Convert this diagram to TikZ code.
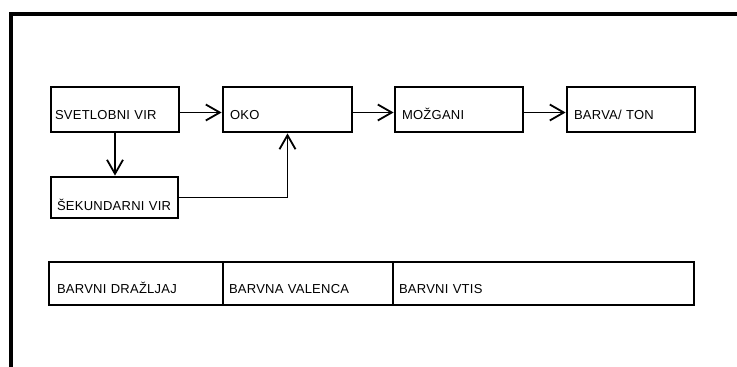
\documentclass[tikz,border=0pt]{standalone}
\usepackage{fontspec}
\usepackage{tikz}
\usetikzlibrary{arrows.meta}
\newfontfamily\napis[LetterSpace=2]{Liberation Sans}

\begin{document}
\begin{tikzpicture}[x=1pt, y=-1pt,
  okvir/.style={rectangle, draw, line width=2.8pt, inner xsep=7pt, inner ysep=0pt,
    minimum height=45pt, text height=19pt, text depth=0pt, align=left,
    font=\napis\fontsize{13}{15}\selectfont},
  strelica/.style={line width=1.8pt, -{Straight Barb[length=14pt, width=16pt]}}]
  \useasboundingbox (0,0) rectangle (737,367);

  % Okvir
  \draw[line width=4pt] (737,14) -- (11,14) -- (11,367);

  % Vozlisca
  \node[okvir, inner xsep=4pt, text width=120pt] (svet) at (115,109.5) {SVETLOBNI VIR};   % levo zgoraj
  \node[okvir, text width=115pt] (oko) at (287.5,109.5) {OKO};
  \node[okvir, text width=114pt] (mozg) at (459,109.5) {MOŽGANI};
  \node[okvir, text width=114pt] (barva) at (631,109.5) {BARVA/ TON};                    % desno
  \node[okvir, inner xsep=6pt, text width=115pt, minimum height=41pt, text height=26pt]
    (sek) at (114.5,197.5) {ŠEKUNDARNI VIR};                                            % levo spodaj

  % Spodnji trak
  \node[okvir, text width=158pt, minimum height=43pt, inner xsep=8pt] (drazljaj) at (136,283.5) {BARVNI DRAŽLJAJ};
  \node[okvir, text width=158pt, minimum height=43pt, inner xsep=6pt] (valenca) at (308,283.5) {BARVNA VALENCA};
  \node[okvir, text width=289pt, minimum height=43pt, inner xsep=6pt] (vtis) at (543.5,283.5) {BARVNI VTIS};

  % Puscice
  \draw[strelica] ([yshift=-3pt]svet.east) -- ([yshift=-3pt]oko.west);
  \draw[strelica] ([yshift=-3pt]oko.east) -- ([yshift=-3pt]mozg.west);
  \draw[strelica] ([yshift=-3pt]mozg.east) -- ([yshift=-3pt]barva.west);
  \draw[strelica] (svet.south) -- (svet.south |- sek.north);
  \draw[strelica] (sek.east) -| (oko.south);
\end{tikzpicture}
\end{document}
